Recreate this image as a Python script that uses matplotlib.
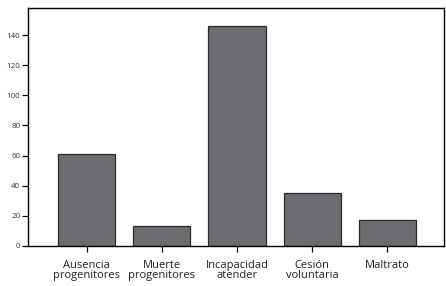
import matplotlib
matplotlib.use('Agg')
from matplotlib import pyplot as plt

categorias = ['Ausencia\nprogenitores', 'Muerte\nprogenitores', 'Incapacidad\natender',
              'Cesión\nvoluntaria', 'Maltrato']
valores = [61, 13, 146, 35, 17]
yticks = [0, 20, 40, 60, 80, 100, 120, 140]

plt.rcParams['font.family'] = ['Open Sans', 'DejaVu Sans']

fig = plt.figure(figsize=(4.46, 2.86), dpi=100)
ax = fig.add_axes([28 / 446, 40 / 286, 416.5 / 446, 238 / 286])

x = range(len(categorias))
ax.bar(x, valores, width=0.76, color='#6b6c70', edgecolor='#2a2a2a', linewidth=0.9)

ax.set_xlim(-0.78, 4.76)
ax.set_ylim(0, 158)
ax.set_yticks(yticks)
ax.set_xticks(list(x))
ax.set_xticklabels(categorias, fontsize=8, linespacing=0.95, color='#222222')
ax.tick_params(axis='y', labelsize=5.8, length=4.5, width=0.9, pad=1, labelcolor='#333333')
ax.tick_params(axis='x', length=4, width=0.9, pad=6)

for s in ax.spines.values():
    s.set_linewidth(1.0)

fig.savefig('out.png', dpi=100)
